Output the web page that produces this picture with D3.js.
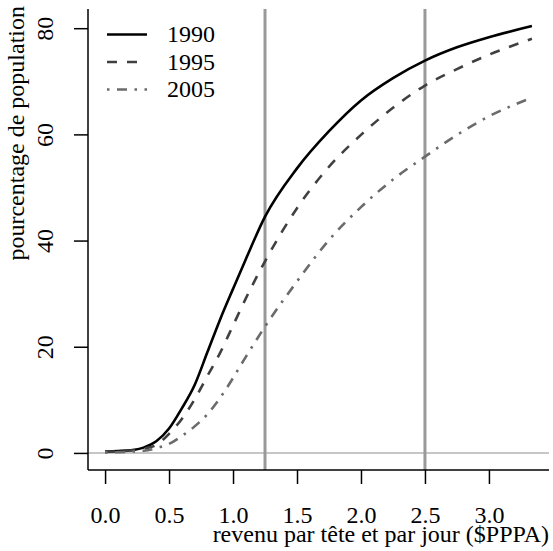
<!DOCTYPE html>
<html>
<head>
<meta charset="utf-8">
<script src="https://cdn.jsdelivr.net/npm/d3@7"></script>
<style>
	body { margin: 0; background: #fff; }
	svg { display: block; }
	svg text { font-family: "Liberation Serif", "Times New Roman", Tinos, "DejaVu Serif", serif !important; }
</style>
</head>
<body>
<div class="container"></div>
<script>
const width = 553, height = 551;

// income grid ($PPPA per day) and share of population below it (%)
const income = [0, 0.1, 0.2, 0.3, 0.4, 0.5, 0.6, 0.7, 0.8, 0.9, 1.0, 1.1, 1.25, 1.5, 1.75, 2.0, 2.25, 2.5, 2.75, 3.0, 3.336];
const pop1990 = [0.25, 0.35, 0.5, 1.0, 2.2, 4.6, 8.4, 12.8, 19.0, 25.2, 30.9, 36.5, 44.5, 53.6, 60.6, 66.4, 70.6, 73.9, 76.4, 78.3, 80.4];
const pop1995 = [0.2, 0.3, 0.45, 0.8, 1.5, 3.6, 6.4, 10.1, 14.5, 18.9, 24.0, 29.1, 36.1, 46.1, 53.9, 59.9, 65.0, 69.2, 72.3, 75.0, 78.0];
const pop2005 = [0.1, 0.15, 0.25, 0.4, 0.9, 1.7, 3.2, 5.0, 7.3, 10.4, 14.1, 18.1, 23.8, 32.3, 40.1, 46.3, 51.5, 55.8, 59.9, 63.4, 66.9];

const years = ['1990', '1995', '2005'];
const series = [pop1990, pop1995, pop2005];
const xTicks = [0, 0.5, 1, 1.5, 2, 2.5, 3];
const yTicks = [0, 20, 40, 60, 80];
const thresholds = [1.25, 2.5];

const styles = [
	{color: '#000', dash: null},
	{color: '#404040', dash: '10,10'},
	{color: '#6b6b6b', dash: '2.5,7.5,10,7.5'}
];

// plot region like R: data range padded by 4%
const pLeft = 88, pRight = 549, pTop = 9, pBottom = 470;
const xExt = d3.extent(income), yExt = [0, d3.max(series.flat())];
const xPad = (xExt[1] - xExt[0]) * 0.04, yPad = (yExt[1] - yExt[0]) * 0.04;
const sx = d3.scaleLinear().domain([xExt[0] - xPad, xExt[1] + xPad]).range([pLeft, pRight]);
const sy = d3.scaleLinear().domain([yExt[0] - yPad, yExt[1] + yPad]).range([pBottom, pTop]);

const svg = d3.select('.container').append('svg')
	.attr('width', width)
	.attr('height', height)
	.attr('viewBox', [0, 0, width, height]);

// reference lines
svg.append('line')
	.attr('x1', pLeft).attr('x2', pRight)
	.attr('y1', sy(0)).attr('y2', sy(0))
	.attr('stroke', '#b3b3b3').attr('stroke-width', 1.5);

svg.selectAll('line.thr')
	.data(thresholds)
	.join('line')
	.attr('class', 'thr')
	.attr('x1', d => sx(d)).attr('x2', d => sx(d))
	.attr('y1', pTop).attr('y2', pBottom)
	.attr('stroke', '#999').attr('stroke-width', 3);

// curves
const line = d3.line()
	.x((d, i) => sx(income[i]))
	.y(d => sy(d))
	.curve(d3.curveMonotoneX);

svg.append('g')
	.attr('fill', 'none')
	.selectAll('path')
	.data(series)
	.join('path')
	.attr('d', line)
	.attr('stroke', (d, i) => styles[i].color)
	.attr('stroke-width', 2.6)
	.attr('stroke-dasharray', (d, i) => styles[i].dash);

// axes (bty = "l")
const xAxis = svg.append('g')
	.attr('transform', 'translate(0,' + pBottom + ')')
	.call(d3.axisBottom(sx).tickValues(xTicks).tickFormat(d3.format('.1f')).tickSize(14).tickPadding(22));
xAxis.select('.domain').attr('d', 'M' + pLeft + ',0H' + pRight);

const yAxis = svg.append('g')
	.attr('transform', 'translate(' + pLeft + ',0)')
	.call(d3.axisLeft(sy).tickValues(yTicks).tickSize(14).tickPadding(0));
yAxis.select('.domain').attr('d', 'M0,' + pTop + 'V' + pBottom);
yAxis.selectAll('.tick text')
	.attr('x', 0).attr('dy', null)
	.attr('transform', 'translate(-35,0) rotate(-90)')
	.attr('text-anchor', 'middle');

svg.selectAll('.domain, .tick line')
	.attr('stroke', '#000')
	.attr('stroke-width', 1.5);
svg.selectAll('.tick text')
	.attr('font-size', 24)
	.attr('fill', '#000');

// axis titles
svg.append('text')
	.attr('x', pRight)
	.attr('y', 542)
	.attr('text-anchor', 'end')
	.attr('font-size', 24)
	.text('revenu par tête et par jour ($PPPA)');

svg.append('text')
	.attr('transform', 'translate(24,6) rotate(-90)')
	.attr('text-anchor', 'end')
	.attr('font-size', 24)
	.text('pourcentage de population');

// legend
const legend = svg.append('g')
	.selectAll('g')
	.data(years)
	.join('g')
	.attr('transform', (d, i) => 'translate(107,' + (34.5 + i * 27.5) + ')');

legend.append('line')
	.attr('x1', 0).attr('x2', 40)
	.attr('stroke', (d, i) => styles[i].color)
	.attr('stroke-width', 2.6)
	.attr('stroke-dasharray', (d, i) => styles[i].dash);

legend.append('text')
	.attr('x', 60)
	.attr('dy', '0.33em')
	.attr('font-size', 24)
	.text(d => d);
</script>
</body>
</html>
